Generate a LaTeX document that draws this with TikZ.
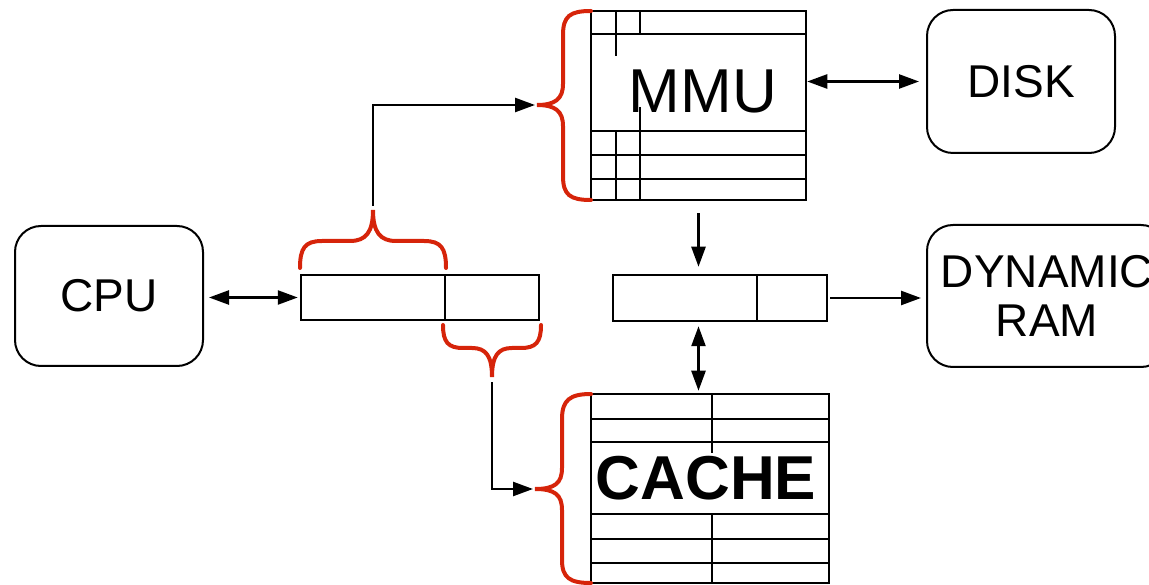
\documentclass[tikz,border=0pt]{standalone}
\usepackage{fontspec}
\setmainfont{Liberation Sans}
\usetikzlibrary{arrows.meta,calc}
\definecolor{bracered}{RGB}{214,36,10}
\tikzset{
  devbox/.style={draw, line width=2pt, rounded corners=26pt, inner sep=0pt, font=\fontsize{46}{49}\selectfont, align=center},
  tbl/.style={draw, line width=2.5pt, inner sep=0pt},
  tline/.style={line width=2.5pt},
  conn/.style={line width=2.5pt, -{Triangle[length=20pt,width=14pt]}},
  dconn/.style={line width=2.5pt, {Triangle[length=20pt,width=14pt]}-{Triangle[length=20pt,width=14pt]}},
  curly/.style={draw=bracered, line width=4pt, line cap=round}
}
\begin{document}
\begin{tikzpicture}[x=1pt,y=-1pt]
\useasboundingbox (0,0) rectangle (1149,585);
\begin{scope}
\clip (0,0) rectangle (1149,585);
% devices
\node[devbox, minimum width=188pt, minimum height=140pt] (cpu) at (109,296) {CPU};
\node[devbox, minimum width=188pt, minimum height=143pt] (disk) at (1021,81.5) {DISK};
\node[devbox, minimum width=240pt, minimum height=142pt] (dram) at (1047,296) {DYNAMIC\\RAM};
\end{scope}
% MMU table
\node[tbl, minimum width=215pt, minimum height=189pt] (mmu) at (698.5,105.5) {};
\draw[tline] (591,34) -- (806,34);
\draw[tline] (591,131) -- (806,131);
\draw[tline] (591,155) -- (806,155);
\draw[tline] (591,179) -- (806,179);
\draw[tline] (616,11) -- (616,56);
\draw[tline] (640,11) -- (640,34);
\draw[tline] (640,107) -- (640,200);
\draw[tline] (616,131) -- (616,200);
\node[font=\fontsize{62}{64}\selectfont, inner sep=0pt] (mmutext) at (703,91) {MMU};
% CACHE table
\node[tbl, minimum width=238pt, minimum height=189pt] (cache) at (710,488.5) {};
\draw[tline] (591,419) -- (829,419);
\draw[tline] (591,442) -- (829,442);
\draw[tline] (591,514) -- (829,514);
\draw[tline] (591,539) -- (829,539);
\draw[tline] (591,563) -- (829,563);
\draw[tline] (712,394) -- (712,453);
\draw[tline] (712,514) -- (712,583);
\node[font=\fontsize{62}{64}\selectfont\bfseries, inner sep=0pt] (cachetext) at (706,478) {CACHE};
% registers
\node[tbl, minimum width=238pt, minimum height=45pt] (regL) at (420,297.5) {};
\draw[tline] (445,275) -- (445,320);
\node[tbl, minimum width=214pt, minimum height=46pt] (regR) at (720,298) {};
\draw[tline] (757,275) -- (757,321);
% brace tips
\coordinate (mt) at (537,105);
\coordinate (ct) at (535,489);
\coordinate (bt) at (373,210);
\coordinate (bb) at (492,377);
% braces
\draw[curly] (591,11) .. controls (570,11) and (563,16) .. (563,35) -- (563,84)
  .. controls (563,99) and (555,105) .. (mt)
  .. controls (555,105) and (563,111) .. (563,126) -- (563,176)
  .. controls (563,195) and (570,200) .. (591,200);
\draw[curly] (591,394) .. controls (570,394) and (562,400) .. (562,419) -- (562,468)
  .. controls (562,483) and (555,489) .. (ct)
  .. controls (555,489) and (562,495) .. (562,510) -- (562,560)
  .. controls (562,578) and (570,583) .. (591,583);
\draw[curly] (300,268) .. controls (300,248) and (305,241) .. (322,241) -- (350,241)
  .. controls (366,241) and (373,232) .. (bt)
  .. controls (373,232) and (380,241) .. (396,241) -- (424,241)
  .. controls (441,241) and (446,248) .. (446,268);
\draw[curly] (443,325) .. controls (443,342) and (448,348) .. (463,348) -- (472,348)
  .. controls (486,348) and (492,356) .. (bb)
  .. controls (492,356) and (498,348) .. (512,348) -- (521,348)
  .. controls (536,348) and (541,342) .. (541,325);
% connectors
\draw[dconn, shorten <=5pt, shorten >=2pt] (regL.west -| cpu.east) -- (regL.west);
\draw[dconn, shorten >=7pt] (disk.west -| mmu.east) -- (disk.west);
\draw[conn, shorten >=2pt] ([yshift=4pt]bt) |- (mt);
\draw[conn, shorten >=2pt] ([yshift=-5pt]bb) |- (ct);
\draw[conn, shorten <=12pt, shorten >=7pt] (mmu.south) -- (mmu.south |- regR.north);
\draw[dconn, shorten <=4pt, shorten >=2pt] (regR.south -| mmu.south) -- (cache.north -| mmu.south);
\draw[conn, shorten <=2pt, shorten >=5pt] (regR.east) -- (regR.east -| dram.west);
\end{tikzpicture}
\end{document}
